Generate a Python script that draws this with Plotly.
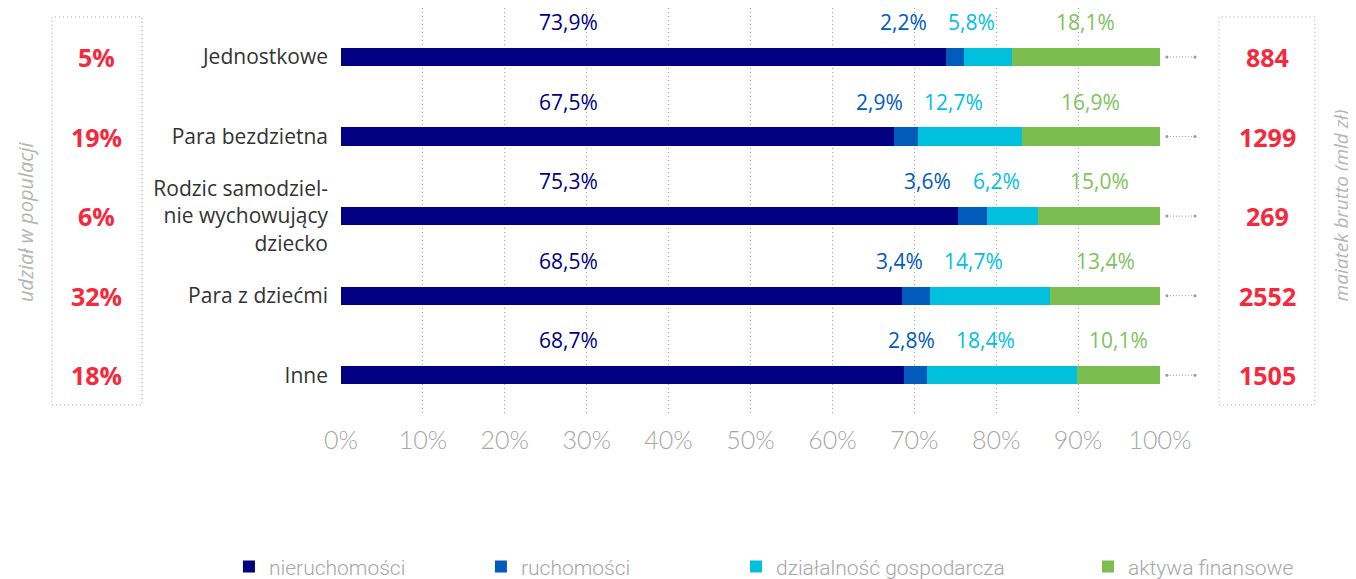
import plotly.graph_objects as go

# ---------------- data ----------------
categories = ["Jednostkowe", "Para bezdzietna",
              "Rodzic samodziel-<br>nie wychowujący<br>dziecko",
              "Para z dziećmi", "Inne"]
series_names = ["nieruchomości", "ruchomości", "działalność gospodarcza", "aktywa finansowe"]
nieruchomosci = [73.9, 67.5, 75.3, 68.5, 68.7]
ruchomosci = [2.2, 2.9, 3.6, 3.4, 2.8]
dzialalnosc = [5.8, 12.7, 6.2, 14.7, 18.4]
aktywa = [18.1, 16.9, 15.0, 13.4, 10.1]
udzial_w_populacji = ["5%", "19%", "6%", "32%", "18%"]
majatek_brutto = [884, 1299, 269, 2552, 1505]
x_ticks = [0, 10, 20, 30, 40, 50, 60, 70, 80, 90, 100]
x_tick_labels = [f"{t}%" for t in x_ticks]

# ---------------- style ----------------
colors = ["#000080", "#005bbb", "#00c0de", "#7bbd4e"]
label_colors = ["#000080", "#005bbb", "#00c0de", "#80c25c"]
RED = "#f5283c"
GRAY = "#a6a6a6"
LABEL_FONT = "Open Sans"
legend_ids = ["legend", "legend2", "legend3", "legend4"]
legend_x = [-0.1368, 0.1709, 0.4823, 0.9121]

fig = go.Figure()
for name, vals, col, lg in zip(series_names, [nieruchomosci, ruchomosci, dzialalnosc, aktywa],
                               colors, legend_ids):
    fig.add_trace(go.Bar(y=categories, x=vals, name=name, orientation="h", legend=lg,
                         marker=dict(color=col, line=dict(width=0)),
                         hoverinfo="x+y"))


def fmt(v):
    return f"{v:.1f}".replace(".", ",") + "%"


PX_PER_UNIT = 819 / 100.0


def half_w(txt):
    return (6 + 11.5 * len(txt)) / PX_PER_UNIT / 2


GAP = 2.0
NIER_LABEL_X = 27.8
annotations = []
for i, cat in enumerate(categories):
    n, r, d, a = nieruchomosci[i], ruchomosci[i], dzialalnosc[i], aktywa[i]
    tn, tr, td, ta = fmt(n), fmt(r), fmt(d), fmt(a)
    ax = min(n + r + d + a / 2, 100 - half_w(ta))
    dx = min(n + r + d / 2 - 2, ax - half_w(ta) - GAP - half_w(td))
    rx = min(n + r / 2, dx - half_w(td) - GAP - half_w(tr))
    for txt, xx, col in [(tn, NIER_LABEL_X, label_colors[0]), (tr, rx, label_colors[1]),
                         (td, dx, label_colors[2]), (ta, ax, label_colors[3])]:
        annotations.append(dict(x=xx, y=cat, xref="x", yref="y", text=txt, showarrow=False,
                                xanchor="center", yshift=35,
                                font=dict(family=LABEL_FONT, size=21, color=col)))
    # left / right side values
    annotations.append(dict(x=-0.298, y=cat, xref="paper", yref="y", text=f"<b>{udzial_w_populacji[i]}</b>",
                            showarrow=False, xanchor="center",
                            font=dict(family=LABEL_FONT, size=25, color=RED)))
    annotations.append(dict(x=1.131, y=cat, xref="paper", yref="y", text=f"<b>{majatek_brutto[i]}</b>",
                            showarrow=False, xanchor="center",
                            font=dict(family=LABEL_FONT, size=25, color=RED)))

annotations.append(dict(x=-0.386, y=0.474, xref="paper", yref="paper", text="<i>udział w populacji</i>",
                        textangle=-90, showarrow=False, xanchor="center", yanchor="middle",
                        font=dict(family=LABEL_FONT, size=20, color="#b4b4b4")))
annotations.append(dict(x=1.2215, y=0.516, xref="paper", yref="paper", text="<i>majątek brutto (mld zł)</i>",
                        textangle=-90, showarrow=False, xanchor="center", yanchor="middle",
                        font=dict(family=LABEL_FONT, size=19, color="#b4b4b4")))

shapes = []
# dotted boxes
for x0, x1 in [(-0.353, -0.243), (1.072, 1.189)]:
    shapes.append(dict(type="rect", xref="paper", yref="paper", x0=x0, x1=x1, y0=0.0246, y1=0.978,
                       line=dict(color="#a0a0a0", width=1, dash="1px,3px"), fillcolor="rgba(0,0,0,0)"))
# connectors
for cat in categories:
    shapes.append(dict(type="line", xref="paper", yref="y", x0=1.0085, x1=1.0427, y0=cat, y1=cat,
                       line=dict(color="#999999", width=1, dash="1px,2px")))
    for xa in (1.0085, 1.0427):
        shapes.append(dict(type="circle", xref="paper", yref="y", xsizemode="pixel", ysizemode="pixel",
                           xanchor=xa, yanchor=cat, x0=-1.5, x1=1.5, y0=-1.5, y1=1.5,
                           line=dict(width=0), fillcolor="#999999"))

legend_layout = {}
for lg, lx in zip(legend_ids, legend_x):
    legend_layout[lg] = dict(orientation="h", x=lx, xanchor="left", y=-0.373, yanchor="middle",
                             bgcolor="rgba(0,0,0,0)",
                             font=dict(family="Roboto", size=21, color=GRAY, weight=300))

fig.update_layout(
    barmode="stack",
    bargap=0.77,
    width=1348, height=571,
    margin=dict(l=333, r=196, t=0, b=164, autoexpand=False),
    plot_bgcolor="white", paper_bgcolor="white",
    xaxis=dict(range=[0, 100], tickvals=x_ticks, ticktext=x_tick_labels, showgrid=True,
               gridcolor="#a8a8a8", griddash="1px,3px", gridwidth=1, zeroline=False, showline=False,
               ticks="", ticklabelstandoff=8, automargin=False,
               tickfont=dict(family="Lato", size=25, color=GRAY, weight=300), fixedrange=True),
    yaxis=dict(range=[4.5, -0.616], showgrid=False, zeroline=False, showline=False, ticks="",
               ticklabelstandoff=12, automargin=False,
               tickfont=dict(family=LABEL_FONT, size=21, color="#333333"),
               fixedrange=True),
    annotations=annotations,
    shapes=shapes,
    showlegend=True,
    **legend_layout,
)

fig.write_html("out.html")
